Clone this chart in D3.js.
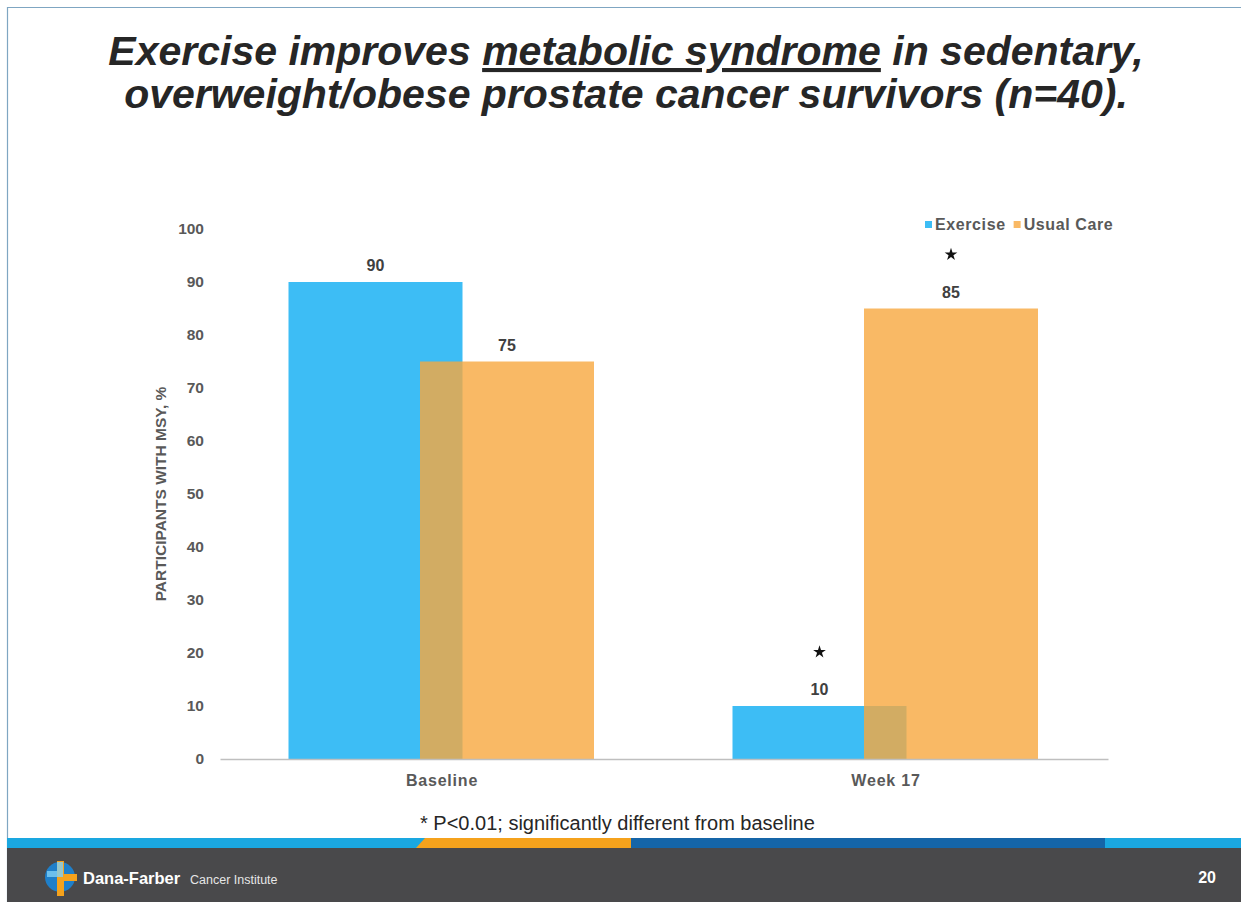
<!DOCTYPE html>
<html>
<head>
<meta charset="utf-8">
<script src="https://cdn.jsdelivr.net/npm/d3@7/dist/d3.min.js"></script>
<style>
  html, body { margin: 0; padding: 0; background: #fff; }
  svg { display: block; }
</style>
</head>
<body>
<svg id="slide" width="1241" height="902"></svg>
<script>
// Share of participants with metabolic syndrome (%)
const categories = ["Baseline", "Week 17"];
const seriesNames = ["Exercise", "Usual Care"];
const exerciseValues = [90, 10];
const usualCareValues = [75, 85];
// significance markers (* P<0.01 vs baseline)
const exerciseSignificant = [false, true];
const usualCareSignificant = [false, true];
const yTicks = [0, 10, 20, 30, 40, 50, 60, 70, 80, 90, 100];

const series = [
  { name: seriesNames[0], values: exerciseValues, sig: exerciseSignificant, color: "#3DBDF5", opacity: 1 },
  { name: seriesNames[1], values: usualCareValues, sig: usualCareSignificant, color: "#F7A83E", opacity: 0.8 }
];

const svg = d3.select("#slide");
const W = 1241, H = 902;

// slide frame
svg.append("rect").attr("x", 0).attr("y", 0).attr("width", W).attr("height", H).attr("fill", "#fff");
svg.append("line").attr("x1", 7).attr("x2", W).attr("y1", 7.5).attr("y2", 7.5)
  .attr("stroke", "#7fa6c2").attr("stroke-width", 1.2);
svg.append("line").attr("x1", 7.5).attr("x2", 7.5).attr("y1", 7).attr("y2", H)
  .attr("stroke", "#7fa6c2").attr("stroke-width", 1.2);

const fontFam = "Liberation Sans, Arial, sans-serif";

// title
const title = svg.append("text")
  .attr("text-anchor", "middle")
  .attr("font-family", fontFam)
  .attr("font-weight", "bold").attr("font-style", "italic")
  .attr("font-size", 41).attr("fill", "#262626");
const t1 = title.append("tspan").attr("x", 626).attr("y", 65);
t1.append("tspan").text("Exercise improves ");
t1.append("tspan").attr("text-decoration", "underline").text("metabolic syndrome");
t1.append("tspan").text(" in sedentary,");
title.append("tspan").attr("x", 626).attr("y", 108)
  .text("overweight/obese prostate cancer survivors (n=40).");

// chart area
const x0 = 220, x1 = 1108, yTop = 229, yBase = 759;
const x = d3.scaleBand().domain(categories).range([x0, x1]).padding(0);
const y = d3.scaleLinear().domain([0, 100]).range([yBase, yTop]);
const barW = 174;
const offsets = [-66.5, 65];

// y-axis (no line, only labels)
const yAxis = svg.append("g").attr("transform", `translate(${x0},0)`)
  .call(d3.axisLeft(y).tickValues(yTicks).tickSize(0).tickPadding(16));
yAxis.select(".domain").remove();
yAxis.selectAll("text").attr("font-family", fontFam).attr("font-weight", "bold")
  .attr("font-size", 15.5).attr("fill", "#595959");

// bars
series.forEach((s, si) => {
  svg.append("g").selectAll("rect").data(categories).join("rect")
    .attr("x", d => x(d) + x.bandwidth() / 2 + offsets[si] - barW / 2)
    .attr("width", barW)
    .attr("y", (d, i) => y(s.values[i]))
    .attr("height", (d, i) => yBase - y(s.values[i]))
    .attr("fill", s.color)
    .attr("fill-opacity", s.opacity);
});

// value labels and significance stars
series.forEach((s, si) => {
  const cx = d => x(d) + x.bandwidth() / 2 + offsets[si];
  svg.append("g").selectAll("text").data(categories).join("text")
    .attr("x", cx)
    .attr("y", (d, i) => y(s.values[i]) - 11)
    .attr("text-anchor", "middle")
    .attr("font-family", fontFam).attr("font-weight", "bold")
    .attr("font-size", 16).attr("fill", "#404040")
    .text((d, i) => s.values[i]);
  svg.append("g").selectAll("path").data(categories.filter((d, i) => s.sig[i])).join("path")
    .attr("d", d3.symbol().type(d3.symbolStar).size(50))
    .attr("transform", d => {
      const i = categories.indexOf(d);
      return `translate(${cx(d)},${y(s.values[i]) - 54})`;
    })
    .attr("fill", "#111");
});

// x-axis baseline
const xAxis = svg.append("g").attr("transform", `translate(0,${yBase})`)
  .call(d3.axisBottom(x).tickSize(0).tickPadding(16));
xAxis.select(".domain").attr("stroke", "#bfbfbf").attr("stroke-width", 1.5);
xAxis.selectAll("text").attr("font-family", fontFam).attr("font-weight", "bold")
  .attr("font-size", 16).attr("letter-spacing", 0.8).attr("fill", "#595959");

// y-axis title
svg.append("text")
  .attr("transform", `translate(166,${(yTop + yBase) / 2}) rotate(-90)`)
  .attr("text-anchor", "middle")
  .attr("font-family", fontFam).attr("font-weight", "bold")
  .attr("font-size", 15.5).attr("fill", "#595959")
  .text("PARTICIPANTS WITH MSY, %");

// legend
const legend = svg.append("g").attr("transform", "translate(925,225)");
let lx = 0;
series.forEach(s => {
  const g = legend.append("g").attr("transform", `translate(${lx},0)`);
  g.append("rect").attr("x", 0).attr("y", -4).attr("width", 7).attr("height", 7)
    .attr("fill", s.color).attr("fill-opacity", s.opacity);
  const t = g.append("text").attr("x", 10).attr("y", 5)
    .attr("font-family", fontFam).attr("font-weight", "bold")
    .attr("font-size", 16).attr("letter-spacing", 0.6).attr("fill", "#595959").text(s.name);
  lx += 10 + t.node().getComputedTextLength() + 8;
});

// footnote
svg.append("text").attr("x", 420).attr("y", 830)
  .attr("font-family", fontFam).attr("font-size", 20).attr("fill", "#262626")
  .text("* P<0.01; significantly different from baseline");

// footer stripe and band
svg.append("rect").attr("x", 7).attr("y", 838).attr("width", W - 7).attr("height", 10).attr("fill", "#1AA7E0");
svg.append("path").attr("d", "M425,838 L631,838 L631,848 L416,848 Z").attr("fill", "#F5A21C");
svg.append("rect").attr("x", 631).attr("y", 838).attr("width", 474).attr("height", 10).attr("fill", "#1565A8");
svg.append("rect").attr("x", 7).attr("y", 848).attr("width", W - 7).attr("height", H - 848).attr("fill", "#49494b");

// logo mark
const logo = svg.append("g").attr("transform", "translate(60,877)");
logo.append("circle").attr("r", 15).attr("fill", "#1f7fc9");
logo.append("path").attr("d", "M-3,-16 L4,-16 L4,-3 L17,-3 L17,4 L4,4 L4,19 L-3,19 Z").attr("fill", "#F5A21C");
logo.append("path").attr("d", "M-13,-6 L-3,-6 L-3,-15 L3,-15 L3,-6 L3,0 L-13,0 Z").attr("fill", "#7fd0f5").attr("opacity", 0.8);

svg.append("text").attr("x", 83).attr("y", 884)
  .attr("font-family", fontFam).attr("font-weight", "bold")
  .attr("font-size", 16.5).attr("fill", "#fff").text("Dana-Farber");
svg.append("text").attr("x", 190).attr("y", 884)
  .attr("font-family", fontFam)
  .attr("font-size", 12.5).attr("fill", "#e6e6e6").text("Cancer Institute");

svg.append("text").attr("x", 1216).attr("y", 883).attr("text-anchor", "end")
  .attr("font-family", fontFam).attr("font-weight", "bold")
  .attr("font-size", 16).attr("fill", "#fff").text("20");
</script>
</body>
</html>
